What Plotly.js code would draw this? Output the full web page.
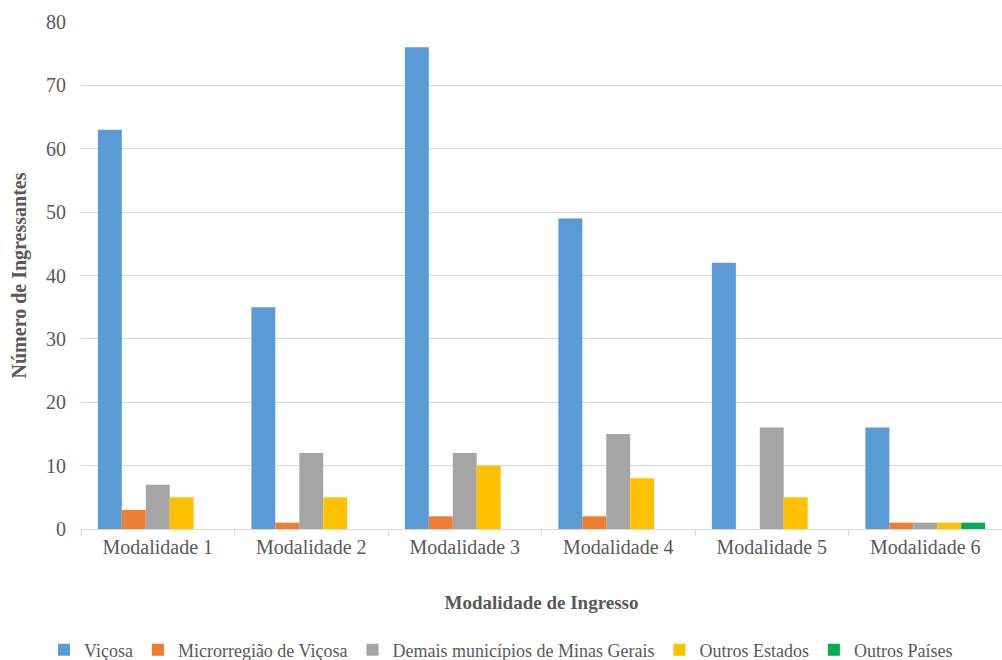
<!DOCTYPE html>
<html>
<head>
<meta charset="utf-8">
<script src="https://cdn.plot.ly/plotly-3.0.1.min.js"></script>
<style>html,body{margin:0;padding:0;background:#fff;}#chart{width:1002px;height:660px;}</style>
</head>
<body>
<div id="chart"></div>
<script>
const categories = ["Modalidade 1","Modalidade 2","Modalidade 3","Modalidade 4","Modalidade 5","Modalidade 6"];
const seriesNames = ["Viçosa","Microrregião de Viçosa","Demais municípios de Minas Gerais","Outros Estados","Outros Países"];
const vicosa = [63,35,76,49,42,16];
const microrregiao = [3,1,2,2,0,1];
const demais = [7,12,12,15,16,1];
const outrosEstados = [5,5,10,8,5,1];
const outrosPaises = [0,0,0,0,0,1];
const colors = ["#5B9BD5","#ED7D31","#A5A5A5","#FFC000","#00B050"];

const allValues = [vicosa, microrregiao, demais, outrosEstados, outrosPaises];
const traces = allValues.map((vals, i) => ({
  type: "bar",
  name: seriesNames[i],
  x: categories,
  y: vals,
  marker: {color: colors[i]},
  hoverinfo: "x+y+name"
}));

const font = "Liberation Serif, Times New Roman, serif";
const layout = {
  width: 1002, height: 660,
  margin: {l: 81, r: 0, t: 22, b: 131, autoexpand: false},
  paper_bgcolor: "#fff", plot_bgcolor: "#fff",
  barmode: "group",
  bargap: 0.22,
  bargroupgap: 0,
  font: {family: font, color: "#595959", size: 20},
  xaxis: {
    type: "category",
    automargin: true,
    tickangle: 0,
    tickson: "boundaries",
    ticks: "outside",
    ticklen: 6,
    tickcolor: "#d9d9d9",
    showline: true,
    linecolor: "#d9d9d9",
    linewidth: 1,
    showgrid: false,
    tickfont: {family: font, size: 20, color: "#595959"},
    title: {text: "<b>Modalidade de Ingresso</b>", font: {family: font, size: 19, color: "#595959"}, standoff: 38}
  },
  yaxis: {
    range: [0, 80],
    dtick: 10,
    automargin: true,
    showgrid: true,
    gridcolor: "#d9d9d9",
    gridwidth: 1,
    zeroline: false,
    showline: false,
    ticks: "",
    ticklabelstandoff: 14,
    tickfont: {family: font, size: 20, color: "#595959"},
    title: {text: "<b>Número de Ingressantes</b>", font: {family: font, size: 20, color: "#595959"}, standoff: 14}
  },
  legend: {
    orientation: "h",
    x: 0.5, xanchor: "center", xref: "container",
    y: -0.239, yanchor: "middle", yref: "paper",
    font: {family: font, size: 18, color: "#595959"},
    itemwidth: 30,
    tracegroupgap: 0
  },
  showlegend: true
};

Plotly.newPlot("chart", traces, layout, {displayModeBar: false, staticPlot: true});
</script>
</body>
</html>
